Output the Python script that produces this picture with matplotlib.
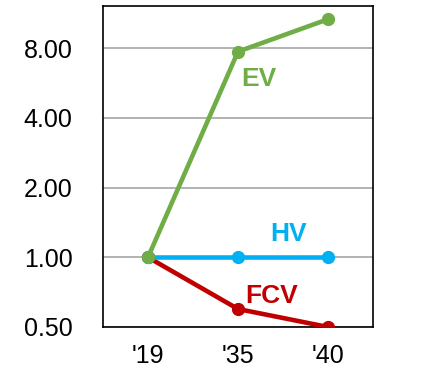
import matplotlib
matplotlib.use("Agg")
import matplotlib.pyplot as plt
from matplotlib.ticker import FixedLocator, NullLocator

plt.rcParams["font.family"] = ["Liberation Sans", "DejaVu Sans"]

years = ["'19", "'35", "'40"]
ev = [1.0, 7.73, 10.67]
hv = [1.0, 1.0, 1.0]
fcv = [1.0, 0.598, 0.50]
yticks = [0.5, 1.0, 2.0, 4.0, 8.0]

GREEN = "#70AD47"
BLUE = "#00B0F0"
RED = "#C00000"

fig = plt.figure(figsize=(4.31, 3.67), dpi=100)
ax = fig.add_axes([103 / 431, 1 - 327 / 367, 270 / 431, 321 / 367])

x = range(len(years))
ax.plot(x, fcv, color=RED, lw=3.3, marker="o", ms=8.5, zorder=3)
ax.plot(x, hv, color=BLUE, lw=3.3, marker="o", ms=8.5, zorder=4)
ax.plot(x, ev, color=GREEN, lw=3.3, marker="o", ms=8.5, zorder=5)

ax.set_yscale("log", base=2)
ax.set_ylim(0.5, 12.17)
ax.set_xlim(-0.5, 2.5)
ax.yaxis.set_major_locator(FixedLocator(yticks))
ax.yaxis.set_minor_locator(NullLocator())
ax.set_yticks(yticks, [f"{v:.2f}" for v in yticks])
ax.set_xticks(list(x), years)
ax.tick_params(axis="both", length=0, labelsize=18)
ax.tick_params(axis="y", pad=22)
ax.tick_params(axis="x", pad=12.5)
ax.grid(axis="y", color="#A6A6A6", lw=1.2)
ax.set_axisbelow(True)
for s in ax.spines.values():
    s.set_color("black")
    s.set_linewidth(1.2)

# series names next to the lines
ax.text(1.233, 5.9, "EV", color=GREEN, fontsize=19, fontweight="bold", ha="center", va="center")
ax.text(1.567, 1.26, "HV", color=BLUE, fontsize=19, fontweight="bold", ha="center", va="center")
ax.text(1.378, 0.68, "FCV", color=RED, fontsize=19, fontweight="bold", ha="center", va="center")

fig.savefig("out.png", dpi=100)
